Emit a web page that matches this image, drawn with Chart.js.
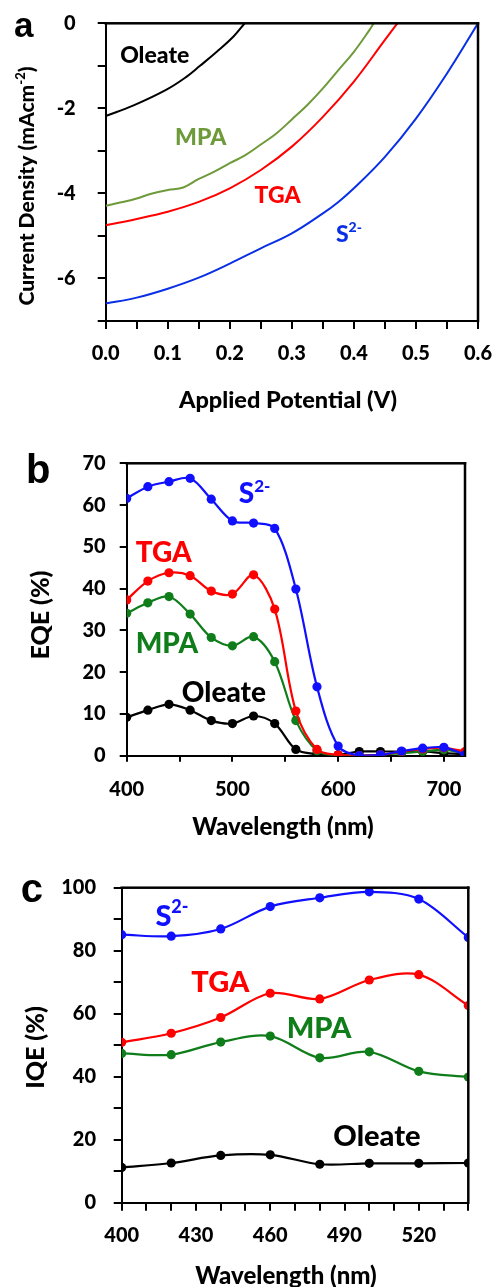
<!DOCTYPE html>
<html>
<head>
<meta charset="utf-8">
<script src="https://cdn.jsdelivr.net/npm/chart.js@4.4.1/dist/chart.umd.min.js"></script>
<style>
  html, body { margin: 0; padding: 0; background: #fff; }
  body { width: 493px; height: 1287px; position: relative; overflow: hidden; }
  .panel { position: absolute; left: 0; width: 493px; }
  canvas { display: block; }
</style>
</head>
<body>
<div class="panel" style="top:0;height:430px"><canvas id="chart-a" width="493" height="430"></canvas></div>
<div class="panel" style="top:430px;height:410px"><canvas id="chart-b" width="493" height="410"></canvas></div>
<div class="panel" style="top:840px;height:447px"><canvas id="chart-c" width="493" height="447"></canvas></div>
<script>
// panel a: current density vs applied potential
const oleateV = [0, 0.045, 0.098, 0.13, 0.152, 0.179, 0.206, 0.224];
const oleateJ = [-2.18, -1.93, -1.56, -1.26, -1.0, -0.67, -0.31, 0];
const mpaV = [0, 0.025, 0.05, 0.075, 0.1, 0.125, 0.15, 0.175, 0.2, 0.225, 0.25, 0.275, 0.3, 0.325, 0.35, 0.375, 0.4, 0.425, 0.432];
const mpaJ = [-4.29, -4.21, -4.12, -4.0, -3.92, -3.86, -3.66, -3.49, -3.29, -3.1, -2.85, -2.59, -2.26, -1.92, -1.53, -1.1, -0.67, -0.16, 0];
const tgaV = [0, 0.05, 0.1, 0.15, 0.2, 0.25, 0.3, 0.35, 0.4, 0.45, 0.47];
const tgaJ = [-4.75, -4.6, -4.43, -4.2, -3.88, -3.45, -2.9, -2.2, -1.37, -0.39, 0];
const sulfideV = [0, 0.05, 0.1, 0.15, 0.2, 0.25, 0.3, 0.35, 0.375, 0.4, 0.45, 0.5, 0.55, 0.6];
const sulfideJ = [-6.59, -6.45, -6.24, -5.98, -5.65, -5.29, -4.94, -4.47, -4.2, -3.88, -3.14, -2.24, -1.18, 0];
const ivXTicks = [0, 0.05, 0.1, 0.15, 0.2, 0.25, 0.3, 0.35, 0.4, 0.45, 0.5, 0.55, 0.6];
const ivXLabels = [0, 0.1, 0.2, 0.3, 0.4, 0.5, 0.6];
const ivYTicks = [-7, -6, -5, -4, -3, -2, -1, 0];
const ivYLabels = [0, -2, -4, -6];

// panel b: EQE
const eqeWavelength = [400, 420, 440, 460, 480, 500, 520, 540, 560, 580, 600, 620, 640, 660, 680, 700, 720];
const eqeSulfide = [61.6, 64.4, 65.6, 66.4, 61.4, 56.2, 55.7, 54.4, 39.9, 16.5, 2.3, 0, 0.2, 1.1, 1.8, 2.0, 0.2];
const eqeTga = [37.3, 41.8, 43.8, 43.1, 39.4, 38.7, 43.3, 35.1, 10.7, 1.5, 0.2, 0, 0.2, 1.0, 1.6, 1.9, 1.0];
const eqeMpa = [34.1, 36.6, 38.1, 33.9, 28.3, 26.3, 28.5, 22.5, 8.4, 1.2, 0, 0, 0.2, 0.6, 1.0, 1.4, 0.6];
const eqeOleate = [9.2, 10.9, 12.3, 10.9, 8.4, 7.7, 9.5, 7.7, 1.5, 0.4, 0.2, 1.0, 1.0, 1.0, 1.0, 0.6, 0.4];
const eqeXTicks = [400, 450, 500, 550, 600, 650, 700];
const eqeXLabels = [400, 500, 600, 700];
const eqeYTicks = [0, 10, 20, 30, 40, 50, 60, 70];

// panel c: IQE
const iqeWavelength = [400, 420, 440, 460, 480, 500, 520, 540];
const iqeSulfide = [85.1, 84.6, 86.9, 94.0, 96.8, 98.7, 96.4, 84.2];
const iqeTga = [50.9, 53.8, 58.8, 66.5, 64.7, 70.7, 72.4, 62.6];
const iqeMpa = [47.4, 47.0, 51.0, 52.9, 46.0, 47.9, 41.7, 39.9];
const iqeOleate = [11.2, 12.6, 15.0, 15.2, 12.2, 12.5, 12.5, 12.6];
const iqeXTicks = [400, 410, 420, 430, 440, 450, 460, 470, 480, 490, 500, 510, 520, 530, 540];
const iqeXLabels = [400, 430, 460, 490, 520];
const iqeYTicks = [0, 10, 20, 30, 40, 50, 60, 70, 80, 90, 100];
const iqeYLabels = [0, 20, 40, 60, 80, 100];

const BLACK = '#000000';
const RED = '#ff0000';
const BLUE = '#1010ff';
const GREEN = '#0f7d1a';
const OLIVE = '#6e9a3a';
const BLUE_A = '#0a30e6';
const WEIGHT = '900';

Chart.defaults.font.family = 'Lato';
Chart.defaults.font.weight = WEIGHT;
Chart.defaults.font.size = 20;
Chart.defaults.color = '#000';

const pts = (xs, ys) => xs.map((x, i) => ({x, y: ys[i]}));

function drawRich(ctx, parts, cx, cy, size, color, rot) {
  const supSize = Math.round(size * 0.62);
  const font = p => `${WEIGHT} ${p.sup ? supSize : size}px Lato`;
  let w = 0;
  for (const p of parts) { ctx.font = font(p); w += ctx.measureText(p.t).width; }
  ctx.save();
  ctx.translate(cx, cy);
  ctx.rotate(rot || 0);
  ctx.fillStyle = color;
  ctx.textAlign = 'left';
  ctx.textBaseline = 'alphabetic';
  const base = size * 0.36;
  let x = -w / 2;
  for (const p of parts) {
    ctx.font = font(p);
    ctx.fillText(p.t, x, p.sup ? base - size * 0.42 : base);
    x += ctx.measureText(p.t).width;
  }
  ctx.restore();
}

// top/right frame edges, curve labels, axis titles, panel letter
const decor = {
  id: 'decor',
  afterDraw(chart, args, o) {
    const ctx = chart.ctx;
    const xs = chart.scales.x, ys = chart.scales.y;
    const ca = chart.chartArea;
    const lw = 2.5;
    ctx.save();
    ctx.fillStyle = '#000';
    ctx.fillRect(ca.left - lw / 2, ca.top - lw / 2, ca.right - ca.left + lw, lw);
    ctx.fillRect(ca.right - lw / 2, ca.top - lw / 2, lw, ca.bottom - ca.top + lw);
    ctx.restore();
    for (const lb of o.labels) {
      drawRich(ctx, lb.parts, xs.getPixelForValue(lb.x), ys.getPixelForValue(lb.y), o.labelSize, lb.color, 0);
    }
    for (const tt of o.titles) drawRich(ctx, tt.parts, tt.x, tt.y, tt.size, '#000', tt.rot);
    ctx.save();
    ctx.font = `bold ${o.letter.size}px "Liberation Sans"`;
    ctx.fillStyle = '#000';
    ctx.textAlign = 'left';
    ctx.textBaseline = 'alphabetic';
    ctx.fillText(o.letter.text, o.letter.x, o.letter.y);
    ctx.restore();
  }
};

function axes(o) {
  const tickGrid = tl => ({ drawOnChartArea: false, drawTicks: true, tickLength: tl, color: '#000', lineWidth: 2 });
  const edge = { display: true, color: '#000', width: 2 };
  return {
    x: {
      type: 'linear', min: o.xMin, max: o.xMax,
      afterBuildTicks: ax => { ax.ticks = o.xTicks.map(v => ({value: v})); },
      afterFit: ax => { ax.height = o.xH; ax.paddingLeft = 0; ax.paddingRight = 0; },
      ticks: { autoSkip: false, maxRotation: 0, padding: o.xPad,
               callback: v => o.xLabels.includes(v) ? o.xFmt(v) : '' },
      grid: tickGrid(o.xTl),
      border: edge
    },
    y: {
      type: 'linear', min: o.yMin, max: o.yMax,
      afterBuildTicks: ax => { ax.ticks = o.yTicks.map(v => ({value: v})); },
      afterFit: ax => { ax.width = o.yW; ax.paddingTop = 0; ax.paddingBottom = 0; },
      ticks: { autoSkip: false, padding: o.yPad,
               callback: v => o.yLabels.includes(v) ? String(v) : '' },
      grid: tickGrid(o.yTl),
      border: edge
    }
  };
}

const lineSet = (label, data, color, marker) => ({
  label, data, borderColor: color, backgroundColor: color, borderWidth: marker ? 2.2 : 2,
  pointRadius: marker ? 4.6 : 0, pointBorderWidth: 0, pointBackgroundColor: color,
  tension: marker ? 0.33 : 0.4, fill: false
});

const basePlugins = { legend: { display: false }, tooltip: { enabled: false } };
const sLabel = [{t: 'S'}, {t: '2-', sup: true}];

new Chart(document.getElementById('chart-a'), {
  type: 'line',
  data: { datasets: [
    lineSet('Oleate', pts(oleateV, oleateJ), BLACK, false),
    lineSet('MPA', pts(mpaV, mpaJ), OLIVE, false),
    lineSet('TGA', pts(tgaV, tgaJ), RED, false),
    lineSet('S2-', pts(sulfideV, sulfideJ), BLUE_A, false)
  ] },
  options: {
    responsive: false, animation: false, devicePixelRatio: 1,
    layout: { padding: { left: 0, top: 23.3, right: 15, bottom: 0 } },
    scales: axes({ xMin: 0, xMax: 0.6, xTicks: ivXTicks, xLabels: ivXLabels, xFmt: v => v.toFixed(1),
                   xH: 109, xPad: 13, xTl: 8,
                   yMin: -7, yMax: 0, yTicks: ivYTicks, yLabels: ivYLabels, yW: 105.7, yPad: 22, yTl: 8 }),
    plugins: { ...basePlugins, decor: {
      labelSize: 23,
      labels: [
        { parts: [{t: 'Oleate'}], x: 0.079, y: -0.75, color: BLACK },
        { parts: [{t: 'MPA'}], x: 0.153, y: -2.67, color: OLIVE },
        { parts: [{t: 'TGA'}], x: 0.277, y: -4.04, color: RED },
        { parts: sLabel, x: 0.392, y: -4.94, color: BLUE_A }
      ],
      titles: [
        { parts: [{t: 'Applied Potential (V)'}], x: 288, y: 400, size: 23.5 },
        { parts: [{t: 'Current Density (mAcm'}, {t: '-2', sup: true}, {t: ')'}], x: 26.7, y: 186, size: 21, rot: -Math.PI / 2 }
      ],
      letter: { text: 'a', x: 14, y: 37, size: 35 }
    } }
  },
  plugins: [decor]
});

new Chart(document.getElementById('chart-b'), {
  type: 'line',
  data: { datasets: [
    lineSet('S2-', pts(eqeWavelength, eqeSulfide), BLUE, true),
    lineSet('TGA', pts(eqeWavelength, eqeTga), RED, true),
    lineSet('MPA', pts(eqeWavelength, eqeMpa), GREEN, true),
    lineSet('Oleate', pts(eqeWavelength, eqeOleate), BLACK, true)
  ] },
  options: {
    responsive: false, animation: false, devicePixelRatio: 1,
    layout: { padding: { left: 0, top: 33.3, right: 28, bottom: 0 } },
    scales: axes({ xMin: 400, xMax: 720, xTicks: eqeXTicks, xLabels: eqeXLabels, xFmt: v => String(v),
                   xH: 84.3, xPad: 16, xTl: 6,
                   yMin: 0, yMax: 70, yTicks: eqeYTicks, yLabels: eqeYTicks, yW: 126.7, yPad: 14, yTl: 7 }),
    plugins: { ...basePlugins, decor: {
      labelSize: 28,
      labels: [
        { parts: sLabel, x: 521, y: 62.8, color: BLUE },
        { parts: [{t: 'TGA'}], x: 435, y: 48.9, color: RED },
        { parts: [{t: 'MPA'}], x: 438, y: 27.1, color: GREEN },
        { parts: [{t: 'Oleate'}], x: 492, y: 15.3, color: BLACK }
      ],
      titles: [
        { parts: [{t: 'Wavelength (nm)'}], x: 283, y: 396.7, size: 24 },
        { parts: [{t: 'EQE (%)'}], x: 40, y: 185, size: 25, rot: -Math.PI / 2 }
      ],
      letter: { text: 'b', x: 26, y: 53.3, size: 40 }
    } }
  },
  plugins: [decor]
});

new Chart(document.getElementById('chart-c'), {
  type: 'line',
  data: { datasets: [
    lineSet('S2-', pts(iqeWavelength, iqeSulfide), BLUE, true),
    lineSet('TGA', pts(iqeWavelength, iqeTga), RED, true),
    lineSet('MPA', pts(iqeWavelength, iqeMpa), GREEN, true),
    lineSet('Oleate', pts(iqeWavelength, iqeOleate), BLACK, true)
  ] },
  options: {
    responsive: false, animation: false, devicePixelRatio: 1,
    layout: { padding: { left: 0, top: 47.7, right: 24.7, bottom: 0 } },
    scales: axes({ xMin: 400, xMax: 540, xTicks: iqeXTicks, xLabels: iqeXLabels, xFmt: v => String(v),
                   xH: 84.3, xPad: 13, xTl: 8,
                   yMin: 0, yMax: 100, yTicks: iqeYTicks, yLabels: iqeYLabels, yW: 121.7, yPad: 17.7, yTl: 8 }),
    plugins: { ...basePlugins, decor: {
      labelSize: 29,
      labels: [
        { parts: sLabel, x: 420.3, y: 91.3, color: BLUE },
        { parts: [{t: 'TGA'}], x: 439.8, y: 70.1, color: RED },
        { parts: [{t: 'MPA'}], x: 479.7, y: 55.6, color: GREEN },
        { parts: [{t: 'Oleate'}], x: 503.1, y: 21.4, color: BLACK }
      ],
      titles: [
        { parts: [{t: 'Wavelength (nm)'}], x: 286, y: 435, size: 24 },
        { parts: [{t: 'IQE (%)'}], x: 35, y: 207.5, size: 25, rot: -Math.PI / 2 }
      ],
      letter: { text: 'c', x: 20.7, y: 61.7, size: 40 }
    } }
  },
  plugins: [decor]
});
</script>
</body>
</html>
